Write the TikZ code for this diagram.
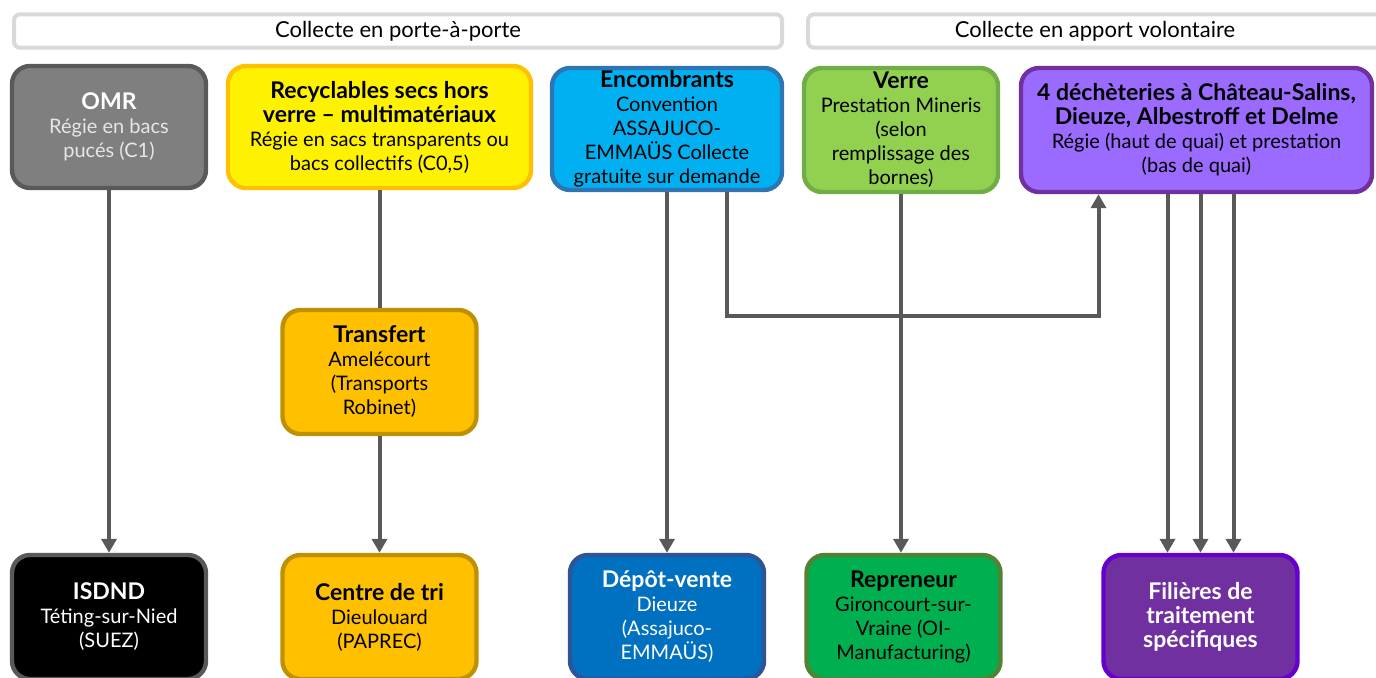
\documentclass[tikz,border=0pt]{standalone}
\usepackage{fontspec}
\setmainfont{Lato}
\usepackage{xcolor}
\usetikzlibrary{arrows.meta}

\definecolor{linegray}{HTML}{595959}
\definecolor{hdrgray}{HTML}{D9D9D9}
\definecolor{omrfill}{HTML}{7F7F7F}
\definecolor{omrtext}{HTML}{E6E6E6}
\definecolor{recyline}{HTML}{FFC000}
\definecolor{encfill}{HTML}{00B0F0}
\definecolor{encline}{HTML}{2E75B6}
\definecolor{verrefill}{HTML}{92D050}
\definecolor{verreline}{HTML}{70AD47}
\definecolor{dechfill}{HTML}{9B6BFF}
\definecolor{dechline}{HTML}{7030A0}
\definecolor{trfill}{HTML}{FFC000}
\definecolor{trline}{HTML}{BF9000}
\definecolor{depfill}{HTML}{0070C0}
\definecolor{depline}{HTML}{2F5597}
\definecolor{repfill}{HTML}{00B050}
\definecolor{repline}{HTML}{548235}
\definecolor{filfill}{HTML}{7030A0}
\definecolor{filline}{HTML}{6600CC}

\newcommand{\hd}[1]{{\fontsize{11.5}{12.5}\selectfont\bfseries #1}}

\begin{document}
\begin{tikzpicture}[x=0.5pt,y=-0.5pt,
    box/.style={draw,rounded corners=9pt,line width=2.2pt,align=center,inner sep=0pt,
      font=\fontsize{10}{12}\selectfont,minimum width=97pt,minimum height=61pt},
    hdr/.style={draw=hdrgray,fill=white,rounded corners=3pt,line width=2pt,
      font=\fontsize{11}{12}\selectfont,minimum height=13pt},
    arr/.style={draw=linegray,line width=2pt,-{Triangle[width=7.5pt,length=7pt]}},
    lnk/.style={draw=linegray,line width=2pt}]
    \useasboundingbox (0,0) rectangle (1376,678);
    \clip (0,0) rectangle (1376,678);

    % bandeaux
    \node[hdr,minimum width=384pt] (ppap) at (398,31) {Collecte en porte-à-porte};
    \node[hdr,minimum width=287pt] (pav) at (1095,31) {Collecte en apport volontaire};

    % flux collectes
    \node[box,fill=omrfill,draw=linegray,text=omrtext] (omr) at (109,127)
        {\hd{\color{white}OMR}\\Régie en bacs\\pucés (C1)};
    \node[box,fill=yellow,draw=recyline,minimum width=151.5pt] (recy) at (379.5,127)
        {\hd{Recyclables secs hors}\\\hd{verre – multimatériaux}\\Régie en sacs transparents ou\\bacs collectifs (C0,5)};
    \node[box,fill=encfill,draw=encline,minimum width=115pt] (encomb) at (667,129)
        {\hd{Encombrants}\\Convention\\ASSAJUCO-\\EMMAÜS Collecte\\gratuite sur demande};
    \node[box,fill=verrefill,draw=verreline,minimum height=62pt] (verre) at (901,130)
        {\hd{Verre}\\Prestation Mineris\\(selon\\remplissage des\\bornes)};
    \node[box,fill=dechfill,draw=dechline,minimum width=175.5pt,minimum height=62pt] (dech) at (1196.5,130)
        {\hd{4 déchèteries à Château-Salins,}\\\hd{Dieuze, Albestroff et Delme}\\Régie (haut de quai) et prestation\\(bas de quai)};

    % transfert
    \node[box,fill=trfill,draw=trline,minimum height=62pt] (transf) at (379.5,372)
        {\hd{Transfert}\\Amelécourt\\(Transports\\Robinet)};

    % exutoires
    \node[box,fill=black,draw=linegray,text=white,minimum height=62pt] (isdnd) at (109,617)
        {\hd{ISDND}\\Téting-sur-Nied\\(SUEZ)};
    \node[box,fill=trfill,draw=trline,minimum height=62pt] (tri) at (379.5,617)
        {\hd{Centre de tri}\\Dieulouard\\(PAPREC)};
    \node[box,fill=depfill,draw=depline,text=white,minimum height=62pt] (depot) at (667,617)
        {\hd{Dépôt-vente}\\Dieuze\\(Assajuco-\\EMMAÜS)};
    \node[box,fill=repfill,draw=repline,minimum height=62pt] (repren) at (903.5,617)
        {\hd{Repreneur}\\Gironcourt-sur-\\Vraine (OI-\\Manufacturing)};
    \node[box,fill=filfill,draw=filline,text=white,minimum height=62pt] (filieres) at (1200.5,617)
        {\hd{Filières de}\\\hd{traitement}\\\hd{spécifiques}};

    % liaisons
    \draw[arr] (omr) -- (isdnd);
    \draw[lnk] (recy) -- (transf);
    \draw[arr] (transf) -- (tri);
    \draw[arr] (encomb) -- (depot);
    \draw[arr] ([xshift=30pt]encomb.south) -- ++(0,124) -| ([xshift=-49pt]dech.south);
    \draw[arr] (verre) -- (repren.north -| verre.south);
    \draw[arr] ([xshift=-16.5pt]filieres.north |- dech.south) -- ([xshift=-16.5pt]filieres.north);
    \draw[arr] (filieres.north |- dech.south) -- (filieres.north);
    \draw[arr] ([xshift=16.5pt]filieres.north |- dech.south) -- ([xshift=16.5pt]filieres.north);
\end{tikzpicture}
\end{document}
